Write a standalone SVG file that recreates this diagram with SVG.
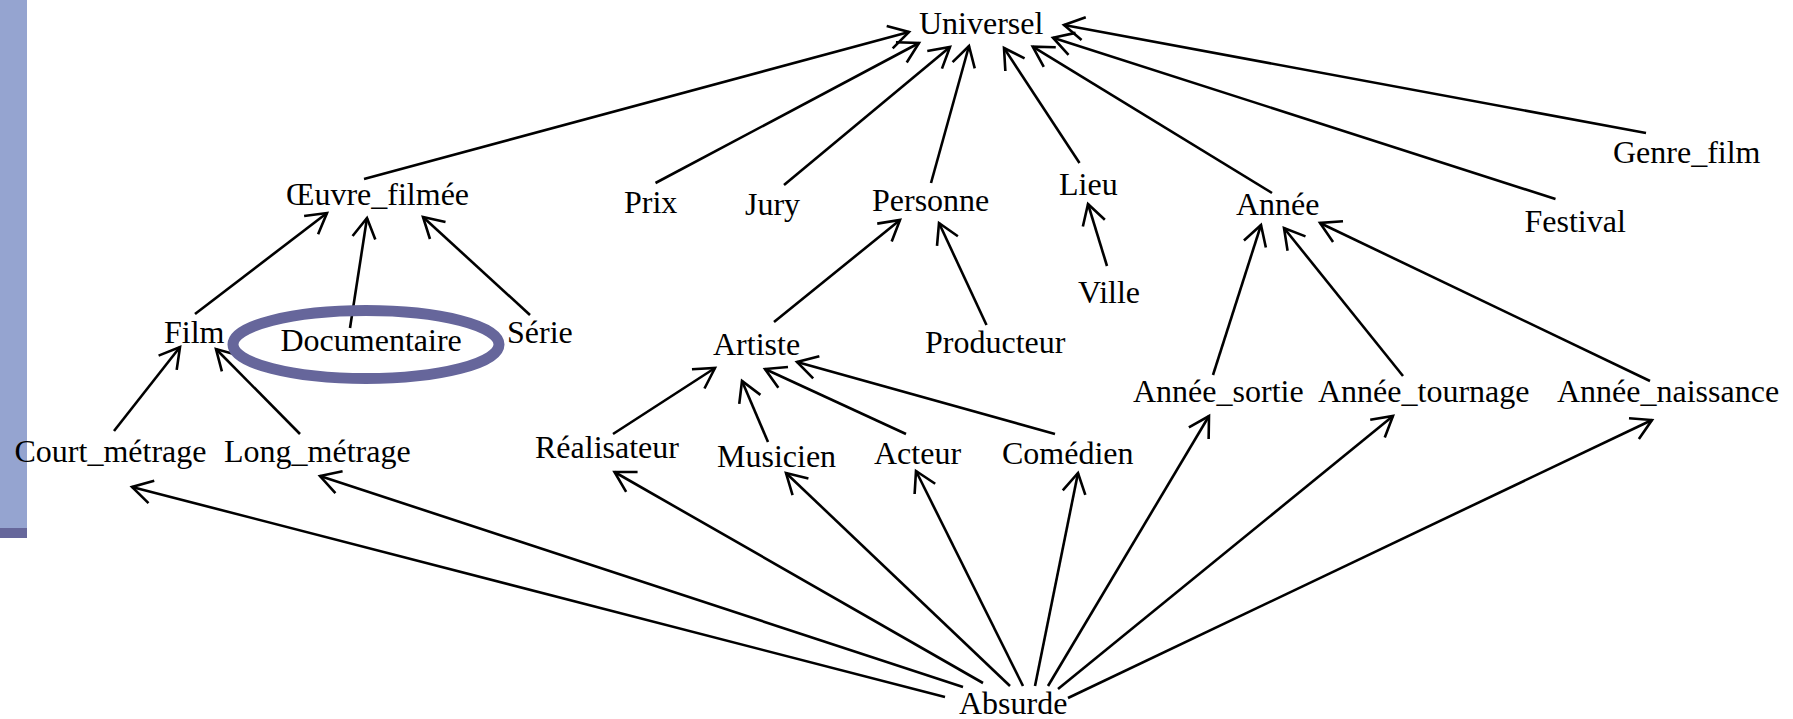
<svg xmlns="http://www.w3.org/2000/svg" width="1793" height="719" viewBox="0 0 1793 719">
<style>
text{font-family:"Liberation Serif","Times New Roman",serif;font-size:32px;fill:#000}
.e{stroke:#000;stroke-width:2.6;fill:none;marker-end:url(#a)}
</style>
<defs>
<marker id="a" markerUnits="userSpaceOnUse" markerWidth="30" markerHeight="30" viewBox="-25 -15 30 30" refX="0" refY="0" orient="auto">
<path d="M-20,-11.5 L0,0 L-20,11.5" fill="none" stroke="#000" stroke-width="2.6"/>
</marker>
</defs>
<rect x="0" y="0" width="27" height="528" fill="#95a4d0"/>
<rect x="0" y="528" width="27" height="10" fill="#66679b"/>
<g id="connectors">
<line class="e" x1="364" y1="179" x2="909" y2="32"/>
<line class="e" x1="655.5" y1="183" x2="919" y2="43"/>
<line class="e" x1="784" y1="185" x2="950" y2="47"/>
<line class="e" x1="931" y1="183" x2="969" y2="46"/>
<line class="e" x1="1079.5" y1="163" x2="1004" y2="48"/>
<line class="e" x1="1272" y1="193" x2="1032.7" y2="46.7"/>
<line class="e" x1="1555.5" y1="199" x2="1053" y2="37.7"/>
<line class="e" x1="1646" y1="133" x2="1064" y2="25"/>
<line class="e" x1="195" y1="314" x2="327" y2="213"/>
<line class="e" x1="350" y1="328" x2="367" y2="218"/>
<line class="e" x1="530" y1="315" x2="423" y2="217"/>
<line class="e" x1="114" y1="431" x2="180" y2="347"/>
<line class="e" x1="300" y1="434" x2="216" y2="349"/>
<line class="e" x1="774" y1="322" x2="900" y2="220"/>
<line class="e" x1="986.5" y1="325" x2="939" y2="223"/>
<line class="e" x1="1107" y1="266" x2="1088" y2="204"/>
<line class="e" x1="613" y1="434" x2="715" y2="368"/>
<line class="e" x1="768" y1="442" x2="742" y2="381"/>
<line class="e" x1="906" y1="434" x2="765" y2="369"/>
<line class="e" x1="1055" y1="434" x2="797" y2="362"/>
<line class="e" x1="1213" y1="375" x2="1261" y2="225"/>
<line class="e" x1="1403" y1="376" x2="1284" y2="228"/>
<line class="e" x1="1650" y1="381" x2="1320" y2="223"/>
<line class="e" x1="945" y1="697" x2="132" y2="487"/>
<line class="e" x1="963" y1="687" x2="320" y2="476"/>
<line class="e" x1="983" y1="683" x2="614.5" y2="472"/>
<line class="e" x1="1010" y1="686" x2="786" y2="473"/>
<line class="e" x1="1023" y1="686" x2="916" y2="471"/>
<line class="e" x1="1035" y1="686" x2="1078" y2="473"/>
<line class="e" x1="1048" y1="686" x2="1209" y2="416"/>
<line class="e" x1="1058" y1="689" x2="1393" y2="416"/>
<line class="e" x1="1068" y1="698" x2="1652" y2="420"/>
</g>
<g id="n-universel"><text x="919" y="34">Universel</text></g>
<g id="n-oeuvre"><text x="286" y="205">Œuvre_filmée</text></g>
<g id="n-prix"><text x="624" y="213">Prix</text></g>
<g id="n-jury"><text x="745" y="215">Jury</text></g>
<g id="n-personne"><text x="872" y="211">Personne</text></g>
<g id="n-lieu"><text x="1059" y="195">Lieu</text></g>
<g id="n-annee"><text x="1236" y="215">Année</text></g>
<g id="n-festival"><text x="1524.5" y="232">Festival</text></g>
<g id="n-genre"><text x="1613" y="163">Genre_film</text></g>
<g id="n-ville"><text x="1078" y="303">Ville</text></g>
<g id="n-film"><text x="164" y="343">Film</text></g>
<g id="n-documentaire"><ellipse cx="366" cy="344.5" rx="133" ry="34" fill="none" stroke="#66669b" stroke-width="11"/><text x="280.5" y="351">Documentaire</text></g>
<g id="n-serie"><text x="507" y="343">Série</text></g>
<g id="n-artiste"><text x="713" y="355">Artiste</text></g>
<g id="n-producteur"><text x="925" y="353">Producteur</text></g>
<g id="n-court"><text x="14.5" y="462">Court_métrage</text></g>
<g id="n-long"><text x="224" y="462">Long_métrage</text></g>
<g id="n-realisateur"><text x="535" y="458">Réalisateur</text></g>
<g id="n-musicien"><text x="717" y="467">Musicien</text></g>
<g id="n-acteur"><text x="874" y="464">Acteur</text></g>
<g id="n-comedien"><text x="1002" y="464">Comédien</text></g>
<g id="n-annee-sortie"><text x="1133" y="402">Année_sortie</text></g>
<g id="n-annee-tournage"><text x="1318" y="402">Année_tournage</text></g>
<g id="n-annee-naissance"><text x="1557" y="402">Année_naissance</text></g>
<g id="n-absurde"><text x="959" y="714">Absurde</text></g>
</svg>
